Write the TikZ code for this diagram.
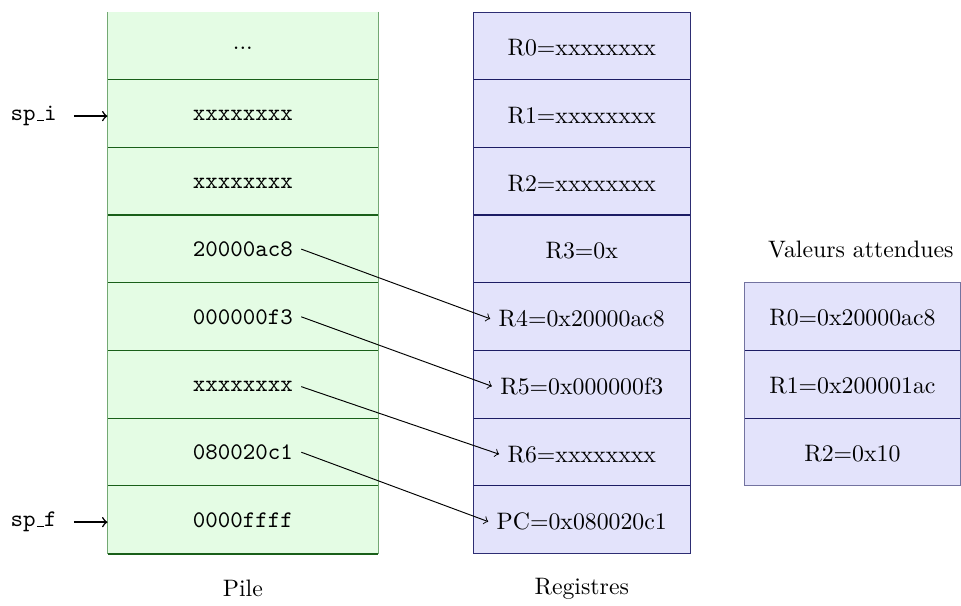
\documentclass[tikz,border=0pt]{standalone}

% colours of the two columns
\definecolor{stackfill}{RGB}{228,252,228}
\definecolor{stackline}{RGB}{25,95,25}
\definecolor{stackedge}{RGB}{115,168,115}
\definecolor{regfill}{RGB}{227,227,251}
\definecolor{regline}{RGB}{28,28,100}
\definecolor{regedge}{RGB}{45,45,115}
\definecolor{expedge}{RGB}{115,115,160}

% short underscore sitting on the baseline
\newcommand\spbar{\kern.06em\vbox{\hrule width.3em}}

\begin{document}
\begin{tikzpicture}[
  stackval/.style={anchor=base, font=\ttfamily},
  regval/.style={anchor=base},
  link/.style={->, line width=0.4pt},
  pointer/.style={anchor=base east, inner xsep=0.25cm, font=\ttfamily},
  pointerarrow/.style={->, line width=0.65pt},
  caption/.style={anchor=base}
]
\useasboundingbox (-1.588,0.177) rectangle (12.607,-8.774);

% ---- stack (Pile) ----
\fill[stackfill] (0,0) rectangle (4,-8);
\foreach \k in {1,...,7} \draw[stackline, line width=0.5pt] (0,-\k) -- (4,-\k);
\draw[stackedge] (0,0) -- (0,-8) (4,0) -- (4,-8);
\draw[stackline, line width=0.9pt] (0,-8) -- (4,-8);

\node (s1) at (2,-0.53) {...};
\node[stackval] (s2) at (2,-1.61) {xxxxxxxx};
\node[stackval] (s3) at (2,-2.61) {xxxxxxxx};
\node[stackval] (s4) at (2,-3.61) {20000ac8};
\node[stackval] (s5) at (2,-4.61) {000000f3};
\node[stackval] (s6) at (2,-5.61) {xxxxxxxx};
\node[stackval] (s7) at (2,-6.61) {080020c1};
\node[stackval] (s8) at (2,-7.61) {0000ffff};

% left edge of the cells the stack pointers point at
\coordinate (top) at (0,-1.5);
\coordinate (bottom) at (0,-7.5);

\node[pointer] (spi) at (-0.495,-1.605) {sp\spbar i};
\node[pointer] (spf) at (-0.495,-7.605) {sp\spbar f};
\draw[pointerarrow] (spi.east) -- (spi.east -| top);
\draw[pointerarrow] (spf.east) -- (spf.east -| bottom);

\node[caption] (pile) at (2,-8.64) {Pile};

% ---- registers ----
\fill[regfill] (5.40,0) rectangle (8.61,-8);
\foreach \k in {1,...,7} \draw[regline, line width=0.5pt] (5.40,-\k) -- (8.61,-\k);
\draw[regedge] (5.40,0) rectangle (8.61,-8);

\node[regval] (r1) at (7.005,-0.648) {R0=xxxxxxxx};
\node[regval] (r2) at (7.005,-1.648) {R1=xxxxxxxx};
\node[regval] (r3) at (7.005,-2.648) {R2=xxxxxxxx};
\node[regval] (r4) at (7.005,-3.648) {R3=0x};
\node[regval] (r5) at (7.005,-4.648) {R4=0x20000ac8};
\node[regval] (r6) at (7.005,-5.648) {R5=0x000000f3};
\node[regval] (r7) at (7.005,-6.648) {R6=xxxxxxxx};
\node[regval] (r8) at (7.005,-7.648) {PC=0x080020c1};

\node[caption] (regs) at (7.005,-8.60) {Registres};

% ---- expected values ----
\fill[regfill] (9.406,-4) rectangle (12.6,-7);
\foreach \k in {5,6} \draw[regline, line width=0.5pt] (9.406,-\k) -- (12.6,-\k);
\draw[expedge] (9.406,-4) rectangle (12.6,-7);

\node[regval] (e1) at (11.003,-4.638) {R0=0x20000ac8};
\node[regval] (e2) at (11.003,-5.638) {R1=0x200001ac};
\node[regval] (e3) at (11.003,-6.638) {R2=0x10};

\node[caption] (expected) at (11.127,-3.63) {Valeurs attendues};

% ---- pops from the stack into the registers ----
\draw[link] (s4.east) -- (r5.west);
\draw[link] (s5.east) -- (r6.west);
\draw[link] (s6.east) -- (r7.west);
\draw[link] (s7.east) -- (r8.west);
\end{tikzpicture}
\end{document}
